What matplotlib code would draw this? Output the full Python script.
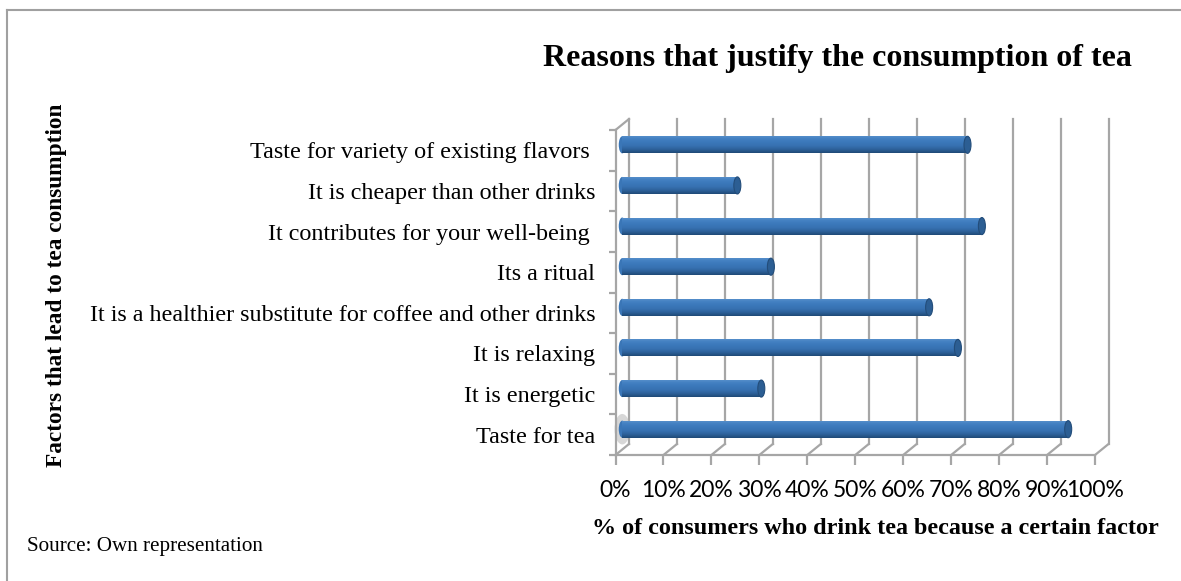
import numpy as np
import matplotlib.pyplot as plt
from matplotlib.patches import Ellipse
from matplotlib.colors import LinearSegmentedColormap
from matplotlib.transforms import ScaledTranslation

factors = [
    'Taste for variety of existing flavors ',
    'It is cheaper than other drinks',
    'It contributes for your well-being ',
    'Its a ritual',
    'It is a healthier substitute for coffee and other drinks',
    'It is relaxing',
    'It is energetic',
    'Taste for tea',
]
share = [0.72, 0.24, 0.75, 0.31, 0.64, 0.70, 0.29, 0.93]
tick_vals = np.arange(0, 1.01, 0.1)
tick_labels = ['{}%'.format(int(round(v * 100))) for v in tick_vals]

title = 'Reasons that justify the consumption of tea'
xlabel = '% of consumers who drink tea because a certain factor'
ylabel = 'Factors that lead to tea consumption'
source = 'Source: Own representation'

serif = ['Liberation Serif', 'DejaVu Serif']
grid_c = '#a6a6a6'
grid_w = 1.6

W, H = 1181, 581
fig = plt.figure(figsize=(W / 100, H / 100), dpi=100)

# front plane of the fake 3d box, pixels
x0, x1 = 615.5, 1095.0
y_top, y_bot = 130.0, 455.0
ax = fig.add_axes([x0 / W, 1 - y_bot / H, (x1 - x0) / W, (y_bot - y_top) / H])
n = len(factors)
ax.set_xlim(0, 1)
ax.set_ylim(n - 0.5, -0.5)

# depth of the box in pixels (back wall sits up and right)
dx, dy = 13.5, 11.0
back = ax.transData + ScaledTranslation(dx / 100, dy / 100, fig.dpi_scale_trans)
mid = ax.transData + ScaledTranslation(dx / 200, dy / 200, fig.dpi_scale_trans)
ddx = dx / (x1 - x0)
ddy = -dy / (y_bot - y_top) * n

# back wall gridlines
for v in tick_vals:
    ax.plot([v, v], [-0.5, n - 0.5], color=grid_c, lw=grid_w, transform=back,
            clip_on=False, zorder=1)
    # floor diagonals
    ax.plot([v, v + ddx], [n - 0.5, n - 0.5 + ddy], color=grid_c, lw=grid_w,
            clip_on=False, zorder=1)
ax.plot([0, ddx], [-0.5, -0.5 + ddy], color=grid_c, lw=grid_w, clip_on=False, zorder=1)

# cylinders
cyl = LinearSegmentedColormap.from_list(
    'cyl', ['#5b92cd', '#4380c2', '#3b78ba', '#3771b1', '#2d619a', '#1f4a77'])
grad = np.linspace(0, 1, 64).reshape(-1, 1)
bar_h = 0.42
cap_w = 7 / (x1 - x0)
ys = np.arange(n)
# faint shadow at the base of the lowest cylinder
ax.add_patch(Ellipse((0, n - 1), 2.2 * cap_w, 0.75, facecolor='#b0b0b0',
                     edgecolor='none', alpha=0.5, transform=mid, zorder=2,
                     clip_on=False))
for y, v in zip(ys, share):
    ax.add_patch(Ellipse((0, y), cap_w, bar_h, facecolor='#3a76b7',
                         edgecolor='none', transform=mid, zorder=3))
bars = ax.barh(ys, share, height=bar_h, color='#3a76b7', transform=mid, zorder=3)
for b, y, v in zip(bars, ys, share):
    im = ax.imshow(grad, extent=(0, v, y + bar_h / 2, y - bar_h / 2), aspect='auto',
                   cmap=cyl, transform=mid, zorder=4, interpolation='bilinear')
    im.set_clip_path(b)
    ax.add_patch(Ellipse((v, y), cap_w, bar_h, facecolor='#2c5e93',
                         edgecolor='#234d7a', lw=0.8, transform=mid, zorder=5))
ax.set_xlim(0, 1)
ax.set_ylim(n - 0.5, -0.5)
ax.set_aspect('auto')

for s in ['top', 'right']:
    ax.spines[s].set_visible(False)
for s in ['left', 'bottom']:
    ax.spines[s].set_color(grid_c)
    ax.spines[s].set_linewidth(grid_w)

ax.set_xticks(tick_vals)
ax.set_xticklabels(tick_labels, fontfamily='Lato', fontsize=16.5)
ax.tick_params(axis='x', length=7.2, width=grid_w, color=grid_c, pad=11)
ax.set_yticks(ys)
ax.set_yticklabels(factors, fontfamily=serif, fontsize=17.4)
ax.tick_params(axis='y', which='major', length=0, pad=14.5)
ax.set_yticks(np.arange(-0.5, n, 1), minor=True)
ax.tick_params(axis='y', which='minor', length=5, width=grid_w, color=grid_c)

fig.text(1132 / W, 1 - 66 / H, title, ha='right', va='baseline',
         fontfamily=serif, fontweight='bold', fontsize=23)
fig.text(875 / W, 1 - 528 / H, xlabel, ha='center', va='center',
         fontfamily=serif, fontweight='bold', fontsize=17.4)
fig.text(57 / W, 1 - 285 / H, ylabel, ha='center', va='center', rotation=90,
         fontfamily=serif, fontweight='bold', fontsize=16.8)
fig.text(27 / W, 1 - 546 / H, source, ha='left', va='center',
         fontfamily=serif, fontsize=15.2)

# outer frame (left and top edges only visible)
fig.add_artist(plt.Line2D([7 / W, 7 / W], [0, 1 - 10 / H], color='#a0a0a0', lw=1.5))
fig.add_artist(plt.Line2D([7 / W, 1], [1 - 10 / H, 1 - 10 / H], color='#a0a0a0', lw=1.5))

fig.savefig('out.png', dpi=100)
